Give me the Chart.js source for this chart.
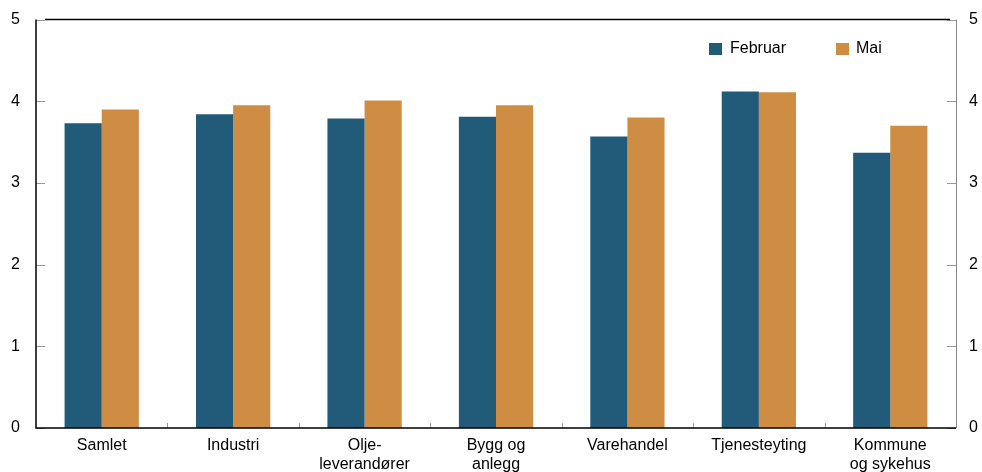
<!DOCTYPE html>
<html>
<head>
<meta charset="utf-8">
<script src="https://cdn.jsdelivr.net/npm/chart.js@4/dist/chart.umd.min.js"></script>
<style>
  html, body { margin: 0; padding: 0; background: #fff; overflow: hidden; }
  #wrap { width: 1000px; height: 478px; position: relative; top: -6px; }
</style>
</head>
<body>
<div id="wrap"><canvas id="chart" width="1000" height="478"></canvas></div>
<script>
// categories and values
const categories = [
  'Samlet', 'Industri', ['Olje-', 'leverandører'], ['Bygg og', 'anlegg'],
  'Varehandel', 'Tjenesteyting', ['Kommune', 'og sykehus']
];
const februar = [3.73, 3.84, 3.79, 3.81, 3.57, 4.12, 3.37];
const mai = [3.90, 3.95, 4.01, 3.95, 3.80, 4.11, 3.70];
const yTicks = [0, 1, 2, 3, 4, 5];

const FEB_COLOR = '#225a7a';
const MAI_COLOR = '#cf8c43';
const FONT = 'Liberation Sans, Arial, sans-serif';

// inward ticks, frame and legend
const frame = {
  id: 'frame',
  afterDraw(chart) {
    const ctx = chart.ctx;
    const a = chart.chartArea;
    const y = chart.scales.y;
    const x = chart.scales.x;
    ctx.save();
    ctx.lineWidth = 1;
    ctx.strokeStyle = '#999';
    ctx.beginPath();
    yTicks.forEach(v => {
      const py = Math.round(y.getPixelForValue(v)) + 0.5;
      ctx.moveTo(a.left, py); ctx.lineTo(a.left + 9, py);
      ctx.moveTo(a.right, py); ctx.lineTo(a.right - 9, py);
    });
    for (let i = 1; i < categories.length; i++) {
      const px = Math.round((x.getPixelForValue(i - 1) + x.getPixelForValue(i)) / 2) + 0.5;
      ctx.moveTo(px, a.bottom); ctx.lineTo(px, a.bottom - 5);
    }
    ctx.stroke();
    // right axis line (gray)
    ctx.strokeStyle = '#888';
    ctx.beginPath();
    ctx.moveTo(Math.round(a.right) + 0.5, a.top); ctx.lineTo(Math.round(a.right) + 0.5, a.bottom);
    ctx.stroke();
    // left, top, bottom lines (black)
    ctx.strokeStyle = '#000';
    ctx.lineWidth = 1.5;
    ctx.beginPath();
    ctx.moveTo(a.left + 9, a.top); ctx.lineTo(a.right - 6, a.top);
    ctx.moveTo(a.left, a.top); ctx.lineTo(a.left, a.bottom); ctx.lineTo(a.right, a.bottom);
    ctx.stroke();
    // legend (page is shifted up 6px)
    ctx.font = '16px ' + FONT;
    ctx.textBaseline = 'middle';
    ctx.fillStyle = FEB_COLOR;
    ctx.fillRect(709, 49, 13, 12);
    ctx.fillStyle = MAI_COLOR;
    ctx.fillRect(836, 49, 13, 12);
    ctx.fillStyle = '#000';
    ctx.fillText(chart.data.datasets[0].label, 730, 55);
    ctx.fillText(chart.data.datasets[1].label, 856, 55);
    ctx.restore();
  }
};

new Chart(document.getElementById('chart'), {
  type: 'bar',
  data: {
    labels: categories,
    datasets: [
      { label: 'Februar', data: februar, backgroundColor: FEB_COLOR },
      { label: 'Mai', data: mai, backgroundColor: MAI_COLOR }
    ]
  },
  options: {
    responsive: false,
    animation: false,
    devicePixelRatio: 1,
    layout: { padding: { top: 10, bottom: 0, left: 0, right: 0 } },
    datasets: { bar: { categoryPercentage: 0.565, barPercentage: 1 } },
    plugins: { legend: { display: false }, tooltip: { enabled: false } },
    scales: {
      x: {
        grid: { display: false, drawTicks: false },
        border: { display: false },
        ticks: { color: '#000', font: { family: FONT, size: 16, lineHeight: 1.2 }, padding: 8, maxRotation: 0, autoSkip: false },
        afterFit(s) { s.height = 44; }
      },
      y: {
        position: 'left',
        min: 0, max: 5,
        grid: { display: false, drawTicks: false },
        border: { display: false },
        ticks: { stepSize: 1, color: '#000', font: { family: FONT, size: 16 }, padding: 16 },
        afterFit(s) { s.width = 36; }
      },
      y2: {
        position: 'right',
        min: 0, max: 5,
        grid: { display: false, drawTicks: false },
        border: { display: false },
        ticks: { stepSize: 1, color: '#000', font: { family: FONT, size: 16 }, padding: 13 },
        afterFit(s) { s.width = 44; }
      }
    }
  },
  plugins: [frame]
});
</script>
</body>
</html>
